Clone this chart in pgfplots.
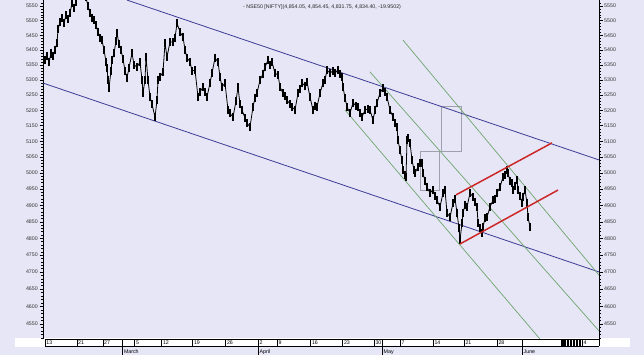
\documentclass[border=0pt]{standalone}
\usepackage{pgfplots}
\pgfplotsset{compat=1.18}
\usepackage{pgfplotstable}
\usepackage{fontspec}
\setmainfont{Liberation Sans}
\definecolor{bg}{RGB}{230,230,246}
\definecolor{chblue}{RGB}{60,60,150}
\definecolor{chgreen}{RGB}{110,165,110}
\definecolor{chred}{RGB}{205,40,40}
\definecolor{boxgray}{RGB}{160,160,172}

\pgfplotstableread{
x p
43 5383
45 5365
47 5378
49 5358
51 5388
53 5380
55 5400
57 5423
58 5470
60 5495
62 5509
64 5490
66 5520
68 5505
70 5525
72 5560
74 5545
76 5565
78 5600
80 5620
82 5590
84 5615
86 5580
88 5550
90 5526
92 5510
94 5502
96 5485
98 5460
100 5440
102 5433
104 5400
106 5360
107 5340
108 5300
109 5273
111 5330
112 5366
114 5389
116 5430
117 5457
119 5420
121 5400
123 5370
125 5330
127 5306
129 5340
132 5389
134 5350
137 5342
140 5359
142 5300
143 5256
145 5300
146 5376
148 5300
150 5243
152 5220
155 5178
157 5233
158 5299
160 5310
163 5326
165 5423
167 5376
170 5427
173 5427
175 5440
177 5491
180 5461
183 5444
185 5400
187 5373
190 5360
192 5330
195 5332
198 5243
200 5260
203 5276
205 5260
207 5243
210 5290
212 5322
215 5373
218 5359
220 5310
222 5276
225 5289
228 5201
230 5190
233 5178
236 5230
238 5276
240 5220
242 5201
245 5175
247 5159
250 5146
253 5211
255 5240
257 5256
260 5299
263 5320
265 5342
268 5366
270 5350
272 5359
275 5322
278 5316
280 5276
283 5256
285 5245
287 5233
290 5220
292 5211
295 5201
298 5256
300 5270
302 5289
305 5280
307 5293
310 5243
313 5201
315 5215
317 5211
320 5256
323 5289
325 5300
327 5332
330 5322
333 5330
335 5322
338 5332
340 5320
342 5309
343 5276
345 5240
347 5211
350 5191
353 5224
356 5215
358 5211
360 5190
362 5178
365 5201
368 5205
370 5201
373 5168
375 5200
377 5224
380 5256
383 5273
385 5260
387 5243
390 5201
393 5178
395 5160
397 5146
398 5104
400 5072
402 5040
403 5009
405 4995
406 4988
407 5104
408 5110
410 5095
412 5041
414 5010
415 5000
418 5019
420 5030
422 5031
423 5000
425 4975
427 4956
430 4938
433 4947
435 4930
437 4916
440 4895
443 4938
445 4947
447 4877
450 4864
453 4907
455 4920
457 4877
459 4830
460 4795
462 4846
463 4877
465 4900
467 4895
470 4938
473 4926
475 4910
477 4895
478 4846
480 4830
482 4816
483 4834
485 4860
487 4864
490 4895
493 4916
495 4920
497 4938
500 4956
503 4988
505 4995
507 5009
508 5000
510 4975
512 4969
513 4947
515 4960
517 4978
518 4947
520 4930
522 4907
523 4926
525 4947
527 4907
528 4864
530 4834
}\price

\pgfplotsset{
  common/.style={
    at={(43bp,16bp)}, anchor=south west, scale only axis,
    width=556bp, height=339bp,
    xmin=43, xmax=599, ymin=4507, ymax=5571,
    axis x line=none,
    y axis line style={-, black, line width=0.5bp},
    ytick={4550,4600,4650,4700,4750,4800,4850,4900,4950,5000,5050,5100,5150,5200,5250,5300,5350,5400,5450,5500,5550},
    yticklabels={4550,4600,4650,4700,4750,4800,4850,4900,4950,5000,5050,5100,5150,5200,5250,5300,5350,5400,5450,5500,5550},
    minor ytick={4510,4520,4530,4540,4560,4570,4580,4590,4610,4620,4630,4640,4660,4670,4680,4690,4710,4720,4730,4740,4760,4770,4780,4790,4810,4820,4830,4840,4860,4870,4880,4890,4910,4920,4930,4940,4960,4970,4980,4990,5010,5020,5030,5040,5060,5070,5080,5090,5110,5120,5130,5140,5160,5170,5180,5190,5210,5220,5230,5240,5260,5270,5280,5290,5310,5320,5330,5340,5360,5370,5380,5390,5410,5420,5430,5440,5460,5470,5480,5490,5510,5520,5530,5540,5560},
    tick align=outside, major tick length=3.5bp, minor tick length=1.8bp,
    every tick/.style={black, line width=0.4bp},
    yticklabel style={font=\fontsize{5.3}{6}\selectfont, text=black!80, inner sep=1.5bp},
    clip mode=individual,
  }
}

\begin{document}
\begin{tikzpicture}[x=1bp,y=1bp]
\fill[bg] (0,0) rectangle (644,355);
\fill[white] (15,8.5) rectangle (630,17);

\begin{axis}[ymode=log, common, axis y line*=left]
\addplot[boxgray, line width=0.5bp] coordinates {(441.7,5212) (461.7,5212) (461.7,5068) (441.7,5068) (441.7,5212)};
\addplot[boxgray, line width=0.5bp] coordinates {(420,5068) (439.3,5068) (439.3,4947) (420,4947) (420,5068)};
\addplot[chblue, line width=0.8bp] coordinates {(127,5571) (599,5041)};
\addplot[chblue, line width=0.8bp] coordinates {(43,5289) (599,4700)};
\addplot[chgreen, line width=0.7bp] coordinates {(345,5201) (540,4507)};
\addplot[chgreen, line width=0.7bp] coordinates {(370,5326) (599,4530)};
\addplot[chgreen, line width=0.7bp] coordinates {(403,5433) (599,4691)};
\addplot[black, line width=0.8bp, line join=round, mark=none,
  error bars/.cd, y dir=both, y fixed relative=0.0025,
  error mark=none, error bar style={line width=1.1bp, black}]
  table[x=x, y=p] {\price};
\addplot[chred, line width=1.5bp] coordinates {(456,4932) (552,5095)};
\addplot[chred, line width=1.5bp] coordinates {(460,4783) (558,4947)};
\end{axis}
\begin{axis}[ymode=log, common, axis y line*=right, yticklabel pos=right]
\addplot[draw=none] coordinates {(100,5000)};
\end{axis}

% title
\node[font=\fontsize{5.3}{6}\selectfont, anchor=base, text=black!85] at (322,346.5)
  {- NSE50 [NIFTY](4,854.05, 4,854.45, 4,831.75, 4,834.40, -19.9502)};

% date strip
\draw[black, line width=0.5bp] (45,16) -- (599,16);
\draw[black, line width=0.5bp] (45,9) -- (599,9);
\fill[black] (561,9) rectangle (581,16);
\foreach \xx in {566,569,572,575,578}{\draw[white, line width=0.4bp] (\xx,9.5) -- (\xx,15.5);}
\foreach \xx/\ll in {45/13, 76.7/21, 102.7/27, 134.5/5, 161.5/12, 192.5/19, 225.5/26, 258/2, 277/9, 310.5/16, 342.5/23, 374/30, 400/7, 433/14, 464/21, 497/28, 582/4}{
  \draw[black, line width=0.4bp] (\xx,16) -- (\xx,9);
  \node[anchor=base west, inner sep=0, font=\fontsize{5.3}{6}\selectfont] at (\xx+1.3,10.6) {\ll};
}
\draw[black, line width=0.4bp] (599,16) -- (599,9);
\foreach \xx/\ll in {122.3/March, 258/April, 382/May, 522/June}{
  \draw[black, line width=0.4bp] (\xx,16) -- (\xx,0);
  \node[anchor=base west, inner sep=0, font=\fontsize{5.3}{6}\selectfont] at (\xx+1.5,2.2) {\ll};
}
\end{tikzpicture}
\end{document}
